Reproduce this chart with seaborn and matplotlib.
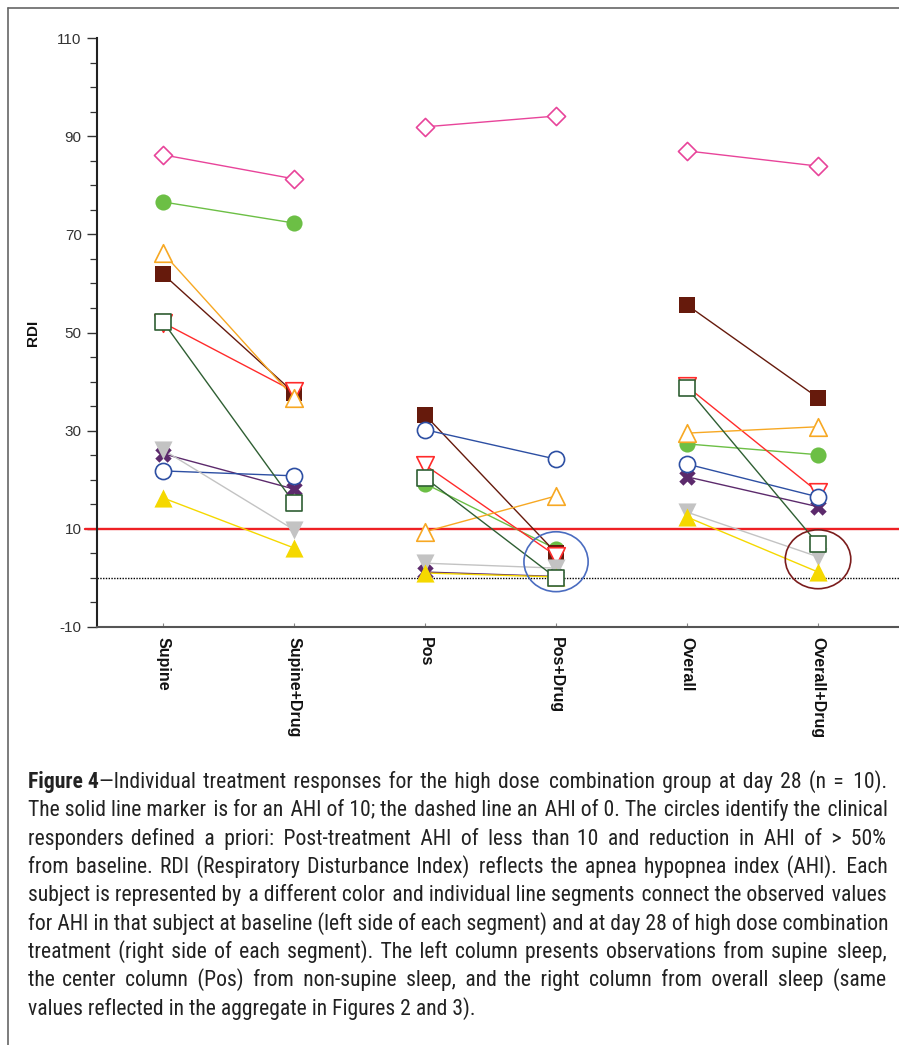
import numpy as np
import pandas as pd
import matplotlib.pyplot as plt
import seaborn as sns
from matplotlib.patches import Ellipse
from matplotlib.lines import Line2D
from matplotlib import font_manager as fm
from matplotlib.ft2font import FT2Font

conditions = ["Supine", "Supine+Drug", "Pos", "Pos+Drug", "Overall", "Overall+Drug"]

# one entry per subject, in drawing order
subjects = ["green", "brown", "red", "orange", "pink", "purple", "blue", "gray", "yellow", "darkgreen"]
colors = ["#6cbf45", "#661a0c", "#ff2b2b", "#f7a823", "#e8449a", "#5c2a6c", "#2d4fa3", "#c3c3c3", "#f5d800", "#2f5f33"]
markers = ["o", "s", "v", "^", "D", "X", "o", "v", "^", "s"]
filled = [True, True, False, False, False, True, False, True, True, False]
sizes = [135, 135, 160, 160, 85, 140, 135, 170, 170, 135]

supine = [76.6, 61.9, 52.0, 66.2, 86.2, 25.3, 21.8, 26.1, 16.3, 52.2]
supine_drug = [72.3, 37.7, 38.0, 36.7, 81.3, 18.1, 20.8, 9.8, 6.1, 15.3]
pos = [19.2, 33.2, 23.0, 9.4, 91.9, 1.2, 30.2, 3.0, 1.0, 20.4]
pos_drug = [5.9, 5.1, 4.5, 16.7, 94.1, 0.3, 24.2, 2.0, 0.2, 0.0]
overall = [27.3, 55.6, 39.0, 29.5, 87.0, 20.6, 23.2, 13.4, 12.4, 38.7]
overall_drug = [25.1, 36.7, 17.5, 30.8, 83.9, 14.5, 16.5, 4.3, 1.2, 6.9]

ahi_solid = 10
ahi_dashed = 0

# responder circles: category index, centre RDI, width in categories, height in RDI, colour
responder_x = [3, 5]
responder_y = [3.3, 3.8]
responder_w = [0.49, 0.50]
responder_h = [12.2, 12.0]
responder_col = ["#4a6cc0", "#7b1c1c"]

caption_bold = "Figure 4"
caption_lines = [
    "—Individual treatment responses for the high dose combination group at day 28 (n = 10).",
    "The solid line marker is for an AHI of 10; the dashed line an AHI of 0. The circles identify the clinical",
    "responders defined a priori: Post-treatment AHI of less than 10 and reduction in AHI of > 50%",
    "from baseline. RDI (Respiratory Disturbance Index) reflects the apnea hypopnea index (AHI). Each",
    "subject is represented by a different color and individual line segments connect the observed values",
    "for AHI in that subject at baseline (left side of each segment) and at day 28 of high dose combination",
    "treatment (right side of each segment). The left column presents observations from supine sleep,",
    "the center column (Pos) from non-supine sleep, and the right column from overall sleep (same",
    "values reflected in the aggregate in Figures 2 and 3).",
]

series = [supine, supine_drug, pos, pos_drug, overall, overall_drug]
rows = []
for i, s in enumerate(subjects):
    for j, cond in enumerate(conditions):
        rows.append({"subject": s, "condition": cond, "pos": j, "pair": j // 2, "rdi": series[j][i]})
df = pd.DataFrame(rows)
palette = dict(zip(subjects, colors))

sns.set_style("ticks")
plt.rcParams["font.family"] = ["Liberation Sans", "DejaVu Sans"]
plt.rcParams["axes.unicode_minus"] = False

W, H = 899, 1045
fig = plt.figure(figsize=(W / 100, H / 100), dpi=100)
ax = fig.add_axes([97 / W, 1 - 627 / H, (W - 97) / W, (627 - 38) / H])

ax.axhline(ahi_solid, xmin=-0.015, xmax=1, color="#ee2024", lw=1.7, clip_on=False, zorder=1.5)
ax.axhline(ahi_dashed, color="black", lw=1.0, ls=(0, (1, 1)), zorder=1.5)

sns.lineplot(data=df, x="pos", y="rdi", hue="subject", units="pair", estimator=None,
             palette=palette, legend=False, lw=1.0, sort=False, ax=ax, zorder=2)

for i, s in enumerate(subjects):
    d = df[df["subject"] == s]
    if filled[i]:
        sns.scatterplot(data=d, x="pos", y="rdi", marker=markers[i], s=sizes[i], color=colors[i],
                        edgecolor=colors[i], linewidth=0, ax=ax, zorder=3, legend=False)
    else:
        sns.scatterplot(data=d, x="pos", y="rdi", marker=markers[i], s=sizes[i], facecolor="white",
                        edgecolor=colors[i], linewidth=1.2, ax=ax, zorder=3, legend=False)

for x, y, w, h, c in zip(responder_x, responder_y, responder_w, responder_h, responder_col):
    ax.add_patch(Ellipse((x, y), w, h, fill=False, edgecolor=c, lw=1.2, zorder=4))

ax.set_xlim(-0.504, 5.618)
ax.set_ylim(-10, 110)
ax.set_yticks(np.arange(-10, 111, 20))
ax.set_yticks(np.arange(-10, 111, 5), minor=True)
ax.set_xticks(range(len(conditions)))
ax.set_xticklabels(conditions, rotation=-90, fontsize=11.5, fontweight="bold", color="#111",
                   va="top", ha="center")
ax.tick_params(axis="y", which="major", length=7, width=1.0, color="#333", labelsize=11,
               labelcolor="#333", pad=4)
ax.tick_params(axis="y", which="minor", length=5, width=0.9, color="#333")
ax.tick_params(axis="x", length=3, direction="in", color="#888", pad=7)

for side in ["top", "right"]:
    ax.spines[side].set_visible(False)
ax.spines["left"].set_color("#222")
ax.spines["left"].set_linewidth(1.5)
ax.spines["bottom"].set_color("#555")
ax.spines["bottom"].set_linewidth(1.5)

ax.set_xlabel("")
ax.set_ylabel("RDI", fontsize=11, fontweight="bold", color="#111")
ax.yaxis.set_label_coords(-0.071, 0.5)

# frame around the figure panel
fig.add_artist(Line2D([8 / W, 8 / W], [0, 1 - 8 / H], transform=fig.transFigure, color="#666", lw=1.2))
fig.add_artist(Line2D([8 / W, 1], [1 - 8 / H, 1 - 8 / H], transform=fig.transFigure, color="#666", lw=1.2))

# caption, justified by padding the word gaps with narrow spaces
cap_family = "Roboto Condensed"
renderer = fig.canvas.get_renderer()
font_file = fm.findfont(fm.FontProperties(family=cap_family))
ft = FT2Font(font_file)
pad_char = " "
for cp in [0x200A, 0x2009, 0x2006, 0x2005]:
    if ft.get_char_index(cp) != 0:
        pad_char = chr(cp)
        break


def text_width(s, weight, size):
    t = fig.text(0, 0, s, fontsize=size, fontweight=weight, family=cap_family)
    w = t.get_window_extent(renderer=renderer).width
    t.remove()
    return w


x0, x1 = 28, 887
base_size = 10.0
bold_w0 = text_width(caption_bold, "bold", base_size)
natural = [text_width(l, "normal", base_size) + (bold_w0 if n == 0 else 0)
           for n, l in enumerate(caption_lines[:-1])]
cap_size = base_size * (x1 - x0 - 4) / max(natural)

bold_w = text_width(caption_bold, "bold", cap_size)
pad_w = text_width("a" + pad_char + "a", "normal", cap_size) - text_width("aa", "normal", cap_size)
baseline0, line_step = 788, 28.3
for n, line in enumerate(caption_lines):
    y = 1 - (baseline0 + n * line_step) / H
    start = x0
    if n == 0:
        fig.text(x0 / W, y, caption_bold, fontsize=cap_size, fontweight="bold", family=cap_family,
                 color="#222", ha="left", va="baseline")
        start = x0 + bold_w
    if n < len(caption_lines) - 1:
        words = line.split(" ")
        gaps = len(words) - 1
        extra = (x1 - start) - text_width(line, "normal", cap_size)
        n_pad = max(0, int(round(extra / pad_w)))
        text = words[0]
        for g in range(gaps):
            k = n_pad * (g + 1) // gaps - n_pad * g // gaps
            text += " " + pad_char * k + words[g + 1]
    else:
        text = line
    fig.text(start / W, y, text, fontsize=cap_size, family=cap_family,
             color="#222", ha="left", va="baseline")

fig.savefig("out.png", dpi=100)
